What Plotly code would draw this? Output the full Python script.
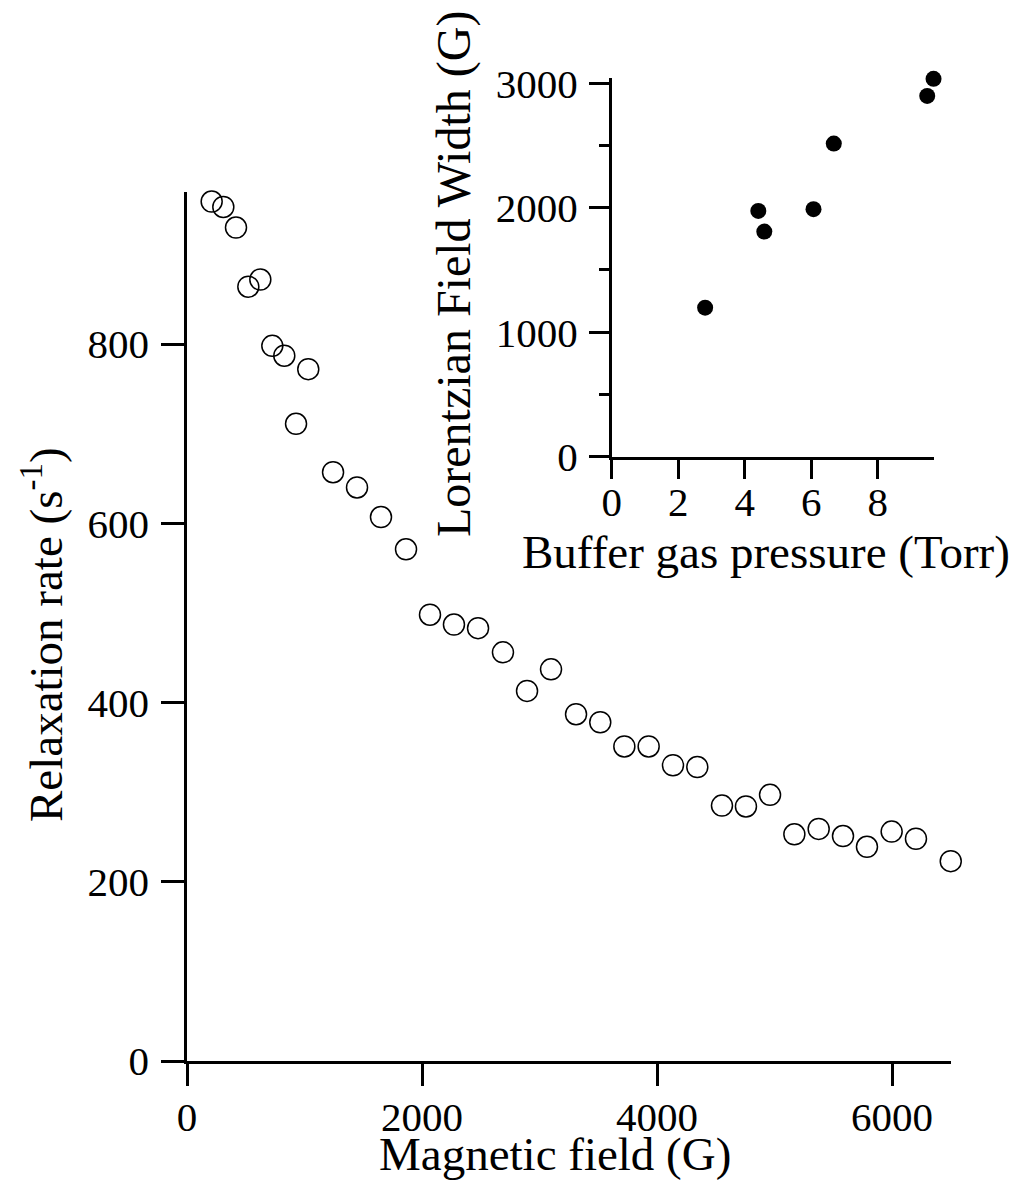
import plotly.graph_objects as go

# Main panel data: magnetic field (G) vs relaxation rate (1/s)
field_G = [210, 309, 417, 522, 624, 726, 828, 928, 1032, 1243, 1447, 1651, 1864,
           2068, 2272, 2477, 2689, 2894, 3098, 3311, 3517, 3722, 3929, 4136, 4343,
           4553, 4757, 4962, 5169, 5376, 5583, 5787, 5997, 6204, 6500]
rate_per_s = [959, 953, 930, 864, 872, 798, 787, 711, 772, 657, 640, 607, 571,
              498, 487, 483, 456, 413, 437, 387, 378, 351, 351, 330, 328,
              285, 284, 297, 253, 259, 251, 239, 256, 248, 223]

# Inset data: buffer gas pressure (Torr) vs Lorentzian field width (G)
pressure_torr = [2.81, 4.41, 4.59, 6.07, 6.68, 9.49, 9.68]
width_G = [1197, 1974, 1808, 1988, 2515, 2898, 3035]

main_xticks = [0, 2000, 4000, 6000]
main_yticks = [0, 200, 400, 600, 800]
inset_xticks = [0, 2, 4, 6, 8]
inset_yticks = [0, 1000, 2000, 3000]
inset_yminor = [500, 1500, 2500]

W, H = 1022, 1182
FONT = "Liberation Serif"
TICK_SIZE = 41
TITLE_SIZE = 47
AX_W = 2.5

fig = go.Figure()
fig.add_trace(go.Scatter(
    x=field_G, y=rate_per_s, mode="markers", xaxis="x", yaxis="y",
    marker=dict(symbol="circle-open", size=21, color="black", line=dict(width=1.5, color="black")),
    cliponaxis=False, showlegend=False))
fig.add_trace(go.Scatter(
    x=pressure_torr, y=width_G, mode="markers", xaxis="x2", yaxis="y2",
    marker=dict(symbol="circle", size=16, color="black"),
    cliponaxis=False, showlegend=False))

def px_x(p):
    return p / W

def px_y(p):
    return 1 - p / H

common = dict(showgrid=False, zeroline=False, showline=True, linecolor="black",
              linewidth=AX_W, ticks="outside", tickcolor="black", tickwidth=AX_W,
              tickfont=dict(family=FONT, size=TICK_SIZE, color="black"),
              fixedrange=True, automargin=False)

fig.update_layout(
    template="none",
    width=W, height=H, autosize=False,
    margin=dict(l=0, r=0, t=0, b=0, pad=0, autoexpand=False),
    paper_bgcolor="white", plot_bgcolor="white",
    font=dict(family=FONT, color="black"),
    showlegend=False,
    xaxis=dict(domain=[px_x(187), px_x(950.75)], range=[0, 6500], tickmode="array",
               tickvals=main_xticks, ticklen=22, anchor="y", ticklabelstandoff=-4, **common),
    yaxis=dict(domain=[px_y(1061), px_y(191.7)], range=[0, 970], tickmode="array",
               tickvals=main_yticks, ticklen=23, anchor="x", ticklabelstandoff=4, **common),
    xaxis2=dict(domain=[px_x(611.7), px_x(934.2)], range=[0, 9.7], tickmode="array",
                tickvals=inset_xticks, ticklen=20, anchor="y2", ticklabelstandoff=-13, **common),
    yaxis2=dict(domain=[px_y(456.7), px_y(78.2)], range=[0, 3040], tickmode="array",
                tickvals=inset_yticks, ticklen=20, anchor="x2", ticklabelstandoff=3,
                minor=dict(tickvals=inset_yminor, ticklen=10, tickwidth=AX_W,
                           tickcolor="black", ticks="outside", showgrid=False),
                **common),
)

title_font = dict(family=FONT, size=TITLE_SIZE, color="black")
fig.add_annotation(text="Magnetic field (G)", xref="paper", yref="paper",
                   x=px_x(555), y=px_y(1154), xanchor="center", yanchor="middle",
                   showarrow=False, font=title_font)
fig.add_annotation(text="Relaxation rate (s<sup>-1</sup>)", xref="paper", yref="paper",
                   x=px_x(42), y=px_y(635), xanchor="center", yanchor="middle",
                   textangle=-90, showarrow=False, font=title_font)
fig.add_annotation(text="Buffer gas pressure (Torr)", xref="paper", yref="paper",
                   x=px_x(766), y=px_y(552), xanchor="center", yanchor="middle",
                   showarrow=False, font=title_font)
fig.add_annotation(text="Lorentzian Field Width (G)", xref="paper", yref="paper",
                   x=px_x(454), y=px_y(274), xanchor="center", yanchor="middle",
                   textangle=-90, showarrow=False, font=dict(family=FONT, size=48, color="black"))

fig.write_html("out.html", config={"displayModeBar": False})
